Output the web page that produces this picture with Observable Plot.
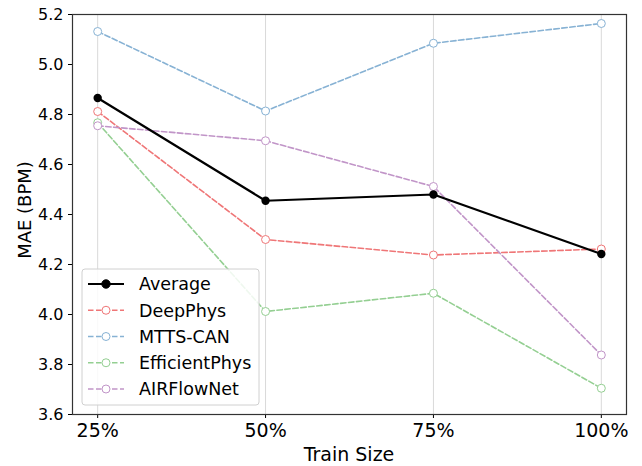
<!DOCTYPE html>
<html>
<head>
<meta charset="utf-8">
<script src="https://cdn.jsdelivr.net/npm/d3@7"></script>
<script src="https://cdn.jsdelivr.net/npm/@observablehq/plot@0.6"></script>
<style>
  body { margin: 0; background: #fff; }
  svg { font-family: "DejaVu Sans", sans-serif; }
</style>
</head>
<body>
<div id="chart"></div>
<script>
const trainSizes = [25, 50, 75, 100];
const tickLabels = ["25%", "50%", "75%", "100%"];
const yTicks = [3.6, 3.8, 4.0, 4.2, 4.4, 4.6, 4.8, 5.0, 5.2];
const seriesNames = ["Average", "DeepPhys", "MTTS-CAN", "EfficientPhys", "AIRFlowNet"];
const average = [4.866, 4.455, 4.480, 4.242];
const deepPhys = [4.812, 4.300, 4.238, 4.262];
const mttsCan = [5.132, 4.814, 5.085, 5.164];
const efficientPhys = [4.767, 4.012, 4.085, 3.705];
const airFlowNet = [4.755, 4.695, 4.512, 3.838];
const colors = ["#000000", "#ef7677", "#87b2d4", "#94cf92", "#c195c8"];

const allSeries = [average, deepPhys, mttsCan, efficientPhys, airFlowNet];
const rows = [];
allSeries.forEach((vals, si) => vals.forEach((v, i) => rows.push({series: seriesNames[si], x: trainSizes[i], y: v})));
const dashed = rows.filter(d => d.series !== "Average");
const avg = rows.filter(d => d.series === "Average");
const colorScale = {domain: seriesNames, range: colors};

const W = 642, H = 466;
const plot = Plot.plot({
  width: W, height: H,
  marginLeft: 72, marginRight: 16, marginTop: 14, marginBottom: 52,
  style: {fontSize: "13px", fontFamily: "DejaVu Sans, sans-serif", color: "#000", background: "#fff"},
  x: {domain: [21.25, 103.75], ticks: trainSizes, tickFormat: d => tickLabels[trainSizes.indexOf(d)], label: null, tickSize: 4},
  y: {domain: [3.6, 5.2], ticks: yTicks, tickFormat: d => d.toFixed(1), label: null, tickSize: 4},
  color: colorScale,
  marks: [
    Plot.ruleX(trainSizes, {stroke: "#d9d9d9", strokeWidth: 1}),
    Plot.line(dashed, {x: "x", y: "y", z: "series", stroke: "series", strokeWidth: 1.6, strokeDasharray: "5.5,2.5"}),
    Plot.dot(dashed, {x: "x", y: "y", stroke: "series", fill: "white", r: 4, strokeWidth: 1}),
    Plot.line(avg, {x: "x", y: "y", stroke: "series", strokeWidth: 2.2}),
    Plot.dot(avg, {x: "x", y: "y", fill: "series", r: 4.2}),
    Plot.frame({stroke: "#333", strokeWidth: 1.2})
  ]
});

const svg = d3.select(plot);
svg.selectAll("g[aria-label='x-axis tick label'] text").style("font-size", "19px");
svg.selectAll("g[aria-label='y-axis tick label'] text").style("font-size", "16px");

// axis titles
svg.append("text").attr("x", 72 + (626 - 72) / 2).attr("y", 461).attr("text-anchor", "middle")
  .style("font-size", "19px").attr("fill", "#000").text("Train Size");
svg.append("text").attr("transform", `translate(31,210) rotate(-90)`).attr("text-anchor", "middle")
  .style("font-size", "18px").attr("fill", "#000").text("MAE (BPM)");

// legend
const lg = svg.append("g").attr("text-anchor", "start");
const lx = 82, ly = 269, lw = 177, lh = 136;
lg.append("rect").attr("x", lx).attr("y", ly).attr("width", lw).attr("height", lh).attr("rx", 3)
  .attr("fill", "white").attr("fill-opacity", 0.85).attr("stroke", "#d0d0d0");
seriesNames.forEach((name, i) => {
  const cy = ly + 15 + i * 26.25;
  const isAvg = i === 0;
  lg.append("line").attr("x1", lx + 6).attr("x2", lx + 42).attr("y1", cy).attr("y2", cy)
    .attr("stroke", colors[i]).attr("stroke-width", isAvg ? 2.2 : 1.6).attr("stroke-dasharray", isAvg ? null : "5.5,2.5");
  lg.append("circle").attr("cx", lx + 24).attr("cy", cy).attr("r", isAvg ? 4.2 : 4)
    .attr("fill", isAvg ? colors[i] : "white").attr("stroke", colors[i]).attr("stroke-width", 1);
  lg.append("text").attr("x", lx + 57).attr("y", cy).attr("dy", "0.36em").attr("text-anchor", "start")
    .style("font-size", "17.5px").attr("fill", "#000").text(name);
});

document.getElementById("chart").appendChild(plot);
</script>
</body>
</html>
